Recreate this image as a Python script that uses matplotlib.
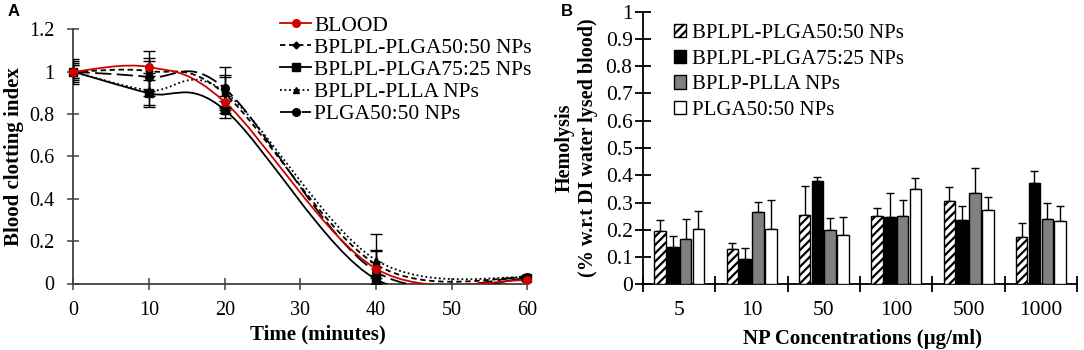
import numpy as np
import matplotlib
matplotlib.use('Agg')
import matplotlib.pyplot as plt
from matplotlib.path import Path
from matplotlib.patches import PathPatch
from matplotlib.lines import Line2D

plt.rcParams['font.family'] = ['Liberation Serif', 'DejaVu Serif']
plt.rcParams['hatch.linewidth'] = 1.6
plt.rcParams['hatch.color'] = 'black'

# Painel A - indice de coagulacao
tempo = [0, 10, 20, 40, 60]
blood = [1.0, 1.022, 0.857, 0.07, 0.015]
blood_err = [0.03, 0.03, 0.03, 0.03, 0.005]
bplpl_5050 = [1.0, 1.003, 0.895, 0.09, 0.028]
bplpl_5050_err = [0.04, 0.095, 0.09, 0.065, 0.005]
bplpl_7525 = [1.0, 0.898, 0.82, 0.02, 0.025]
bplpl_7525_err = [0.03, 0.065, 0.04, 0.02, 0.005]
bplpl_plla = [1.0, 0.912, 0.905, 0.111, 0.028]
bplpl_plla_err = [0.05, 0.07, 0.07, 0.123, 0.005]
plga_5050 = [1.0, 0.975, 0.921, 0.056, 0.033]
plga_5050_err = [0.06, 0.09, 0.1, 0.1, 0.005]

# Painel B - hemolise
conc = ['5', '10', '50', '100', '500', '1000']
hem_5050 = [0.195, 0.131, 0.254, 0.252, 0.307, 0.175]
hem_5050_err = [0.041, 0.022, 0.108, 0.029, 0.051, 0.051]
hem_7525 = [0.135, 0.094, 0.378, 0.247, 0.235, 0.373]
hem_7525_err = [0.042, 0.039, 0.017, 0.087, 0.054, 0.044]
hem_plla = [0.167, 0.264, 0.198, 0.249, 0.335, 0.238]
hem_plla_err = [0.073, 0.038, 0.046, 0.061, 0.09, 0.06]
hem_plga = [0.204, 0.202, 0.18, 0.348, 0.274, 0.233]
hem_plga_err = [0.064, 0.108, 0.067, 0.041, 0.048, 0.053]

VERMELHO = '#d00000'
CINZA_EIXO = '#404040'


def curva_suave(ax, x, y, **kw):
    # linha suavizada tipo Excel (Bezier pelos pontos)
    pts = np.column_stack([x, y]).astype(float)
    n = len(pts)
    verts = [pts[0]]
    codes = [Path.MOVETO]
    for i in range(n - 1):
        p0 = pts[max(i - 1, 0)]
        p1 = pts[i]
        p2 = pts[i + 1]
        p3 = pts[min(i + 2, n - 1)]
        verts += [p1 + (p2 - p0) / 6., p2 - (p3 - p1) / 6., p2]
        codes += [Path.CURVE4] * 3
    ax.add_patch(PathPatch(Path(verts, codes), fill=False, **kw))


fig = plt.figure(figsize=(10.84, 3.5), dpi=100)
axA = fig.add_axes([0.0678, 0.19, 0.4186, 0.726])
axB = fig.add_axes([0.5932, 0.1877, 0.4004, 0.779])

series = [
    ('BLOOD', blood, blood_err, VERMELHO, '-', 'o', 5.5),
    ('BPLPL-PLGA50:50 NPs', bplpl_5050, bplpl_5050_err, 'black', (0, (3, 2)), 'D', 3.5),
    ('BPLPL-PLGA75:25 NPs', bplpl_7525, bplpl_7525_err, 'black', '-', 's', 5.5),
    ('BPLPL-PLLA NPs', bplpl_plla, bplpl_plla_err, 'black', (0, (1, 1.5)), '^', 5),
    ('PLGA50:50 NPs', plga_5050, plga_5050_err, 'black', (0, (9, 3)), 'o', 5.5),
]

handles = []
for i, (nome, y, err, cor, ls, mk, ms) in enumerate(series[::-1]):
    z = 3 + i
    curva_suave(axA, tempo, y, edgecolor=cor, linestyle=ls, lw=1.3, zorder=z)
    axA.errorbar(tempo, y, yerr=err, fmt='none', ecolor='black', elinewidth=1,
                 capsize=4, capthick=1, zorder=z)
    axA.plot(tempo, y, ls='none', marker=mk, ms=ms, color=cor, clip_on=False, zorder=z + 0.5)
for nome, y, err, cor, ls, mk, ms in series:
    handles.append(Line2D([], [], color=cor, ls=ls, lw=1.3, marker=mk, ms=ms, label=nome))

axA.set_xlim(0, 60)
axA.set_ylim(0, 1.2)
axA.set_xticks(np.arange(0, 61, 10))
axA.set_yticks(np.arange(0, 1.21, 0.2))
axA.set_yticklabels(['0', '0.2', '0.4', '0.6', '0.8', '1', '1.2'])
for s in ['top', 'right']:
    axA.spines[s].set_visible(False)
for s in ['left', 'bottom']:
    axA.spines[s].set_color(CINZA_EIXO)
    axA.spines[s].set_linewidth(1.3)
axA.tick_params(direction='inout', length=9, width=1.1, color=CINZA_EIXO, labelsize=14.5)
axA.tick_params(axis='x', pad=8)
axA.tick_params(axis='y', pad=9)
axA.set_xlabel('Time (minutes)', fontsize=15, fontweight='bold')
axA.xaxis.set_label_coords(0.538, -0.16)
axA.set_ylabel('Blood clotting index', fontsize=15, fontweight='bold')
axA.yaxis.set_label_coords(-0.109, 0.5)

fig.legend(handles=handles, loc='upper left', bbox_to_anchor=(280 / 1084, 1 - 15.5 / 350),
           bbox_transform=fig.transFigure, frameon=False, fontsize=15.5, handlelength=1.45,
           handletextpad=0.15, labelspacing=0.1, borderpad=0, borderaxespad=0)

# barras
x = np.arange(len(conc))
passo = 0.177
larg = 0.16
estilos = [
    ('BPLPL-PLGA50:50 NPs', hem_5050, hem_5050_err, 'white', '////'),
    ('BPLPL-PLGA75:25 NPs', hem_7525, hem_7525_err, 'black', None),
    ('BPLP-PLLA NPs', hem_plla, hem_plla_err, '#808080', None),
    ('PLGA50:50 NPs', hem_plga, hem_plga_err, 'white', None),
]
barras = []
for k, (nome, v, e, cor, hachura) in enumerate(estilos):
    pos = x + (k - 1.5) * passo
    b = axB.bar(pos, v, width=larg, color=cor, edgecolor='black', linewidth=1,
                hatch=hachura, label=nome, zorder=3)
    axB.errorbar(pos, v, yerr=[np.zeros(len(e)), e], fmt='none', ecolor='black',
                 elinewidth=1, capsize=2.8, capthick=1, zorder=2)
    barras.append(b)

axB.set_xlim(-0.5, 5.5)
axB.set_ylim(0, 1)
axB.set_yticks(np.arange(0, 1.01, 0.1))
axB.set_yticklabels(['0', '0.1', '0.2', '0.3', '0.4', '0.5', '0.6', '0.7', '0.8', '0.9', '1'])
axB.set_xticks(x)
axB.set_xticklabels(conc)
axB.set_xticks(np.arange(-0.5, 5.6, 1), minor=True)
for s in ['top', 'right']:
    axB.spines[s].set_visible(False)
for s in ['left', 'bottom']:
    axB.spines[s].set_linewidth(1.3)
axB.tick_params(axis='x', which='major', length=0, pad=12, labelsize=15.5)
axB.tick_params(axis='x', which='minor', direction='inout', length=12, width=1.3)
axB.tick_params(axis='y', direction='inout', length=12, width=1.3, pad=1.5, labelsize=15.5)
axB.set_xlabel('NP Concentrations (\u00b5g/ml)', fontsize=15, fontweight='bold')
axB.xaxis.set_label_coords(0.505, -0.163)
# rotulo do eixo y em duas linhas
axB.set_ylabel('(% w.r.t DI water lysed blood)', fontsize=14.5, fontweight='bold')
axB.yaxis.set_label_coords(-0.104, 0.5)
axB.text(-0.18, 0.5, 'Hemolysis', transform=axB.transAxes, rotation=90, fontsize=14.5,
         fontweight='bold', ha='center', va='center')

fig.legend(handles=barras, loc='upper left', bbox_to_anchor=(673.5 / 1084, 1 - 24 / 350),
           bbox_transform=fig.transFigure, frameon=False, fontsize=15, handlelength=0.6,
           handleheight=0.6, handletextpad=0.28, labelspacing=0.32, borderpad=0, borderaxespad=0)

fig.text(14 / 1084, 1 - 12 / 350, 'A', family='Liberation Sans', fontweight='bold', fontsize=12,
         ha='center', va='center')
fig.text(567 / 1084, 1 - 12 / 350, 'B', family='Liberation Sans', fontweight='bold', fontsize=12,
         ha='center', va='center')

fig.savefig('out.png', dpi=100)
